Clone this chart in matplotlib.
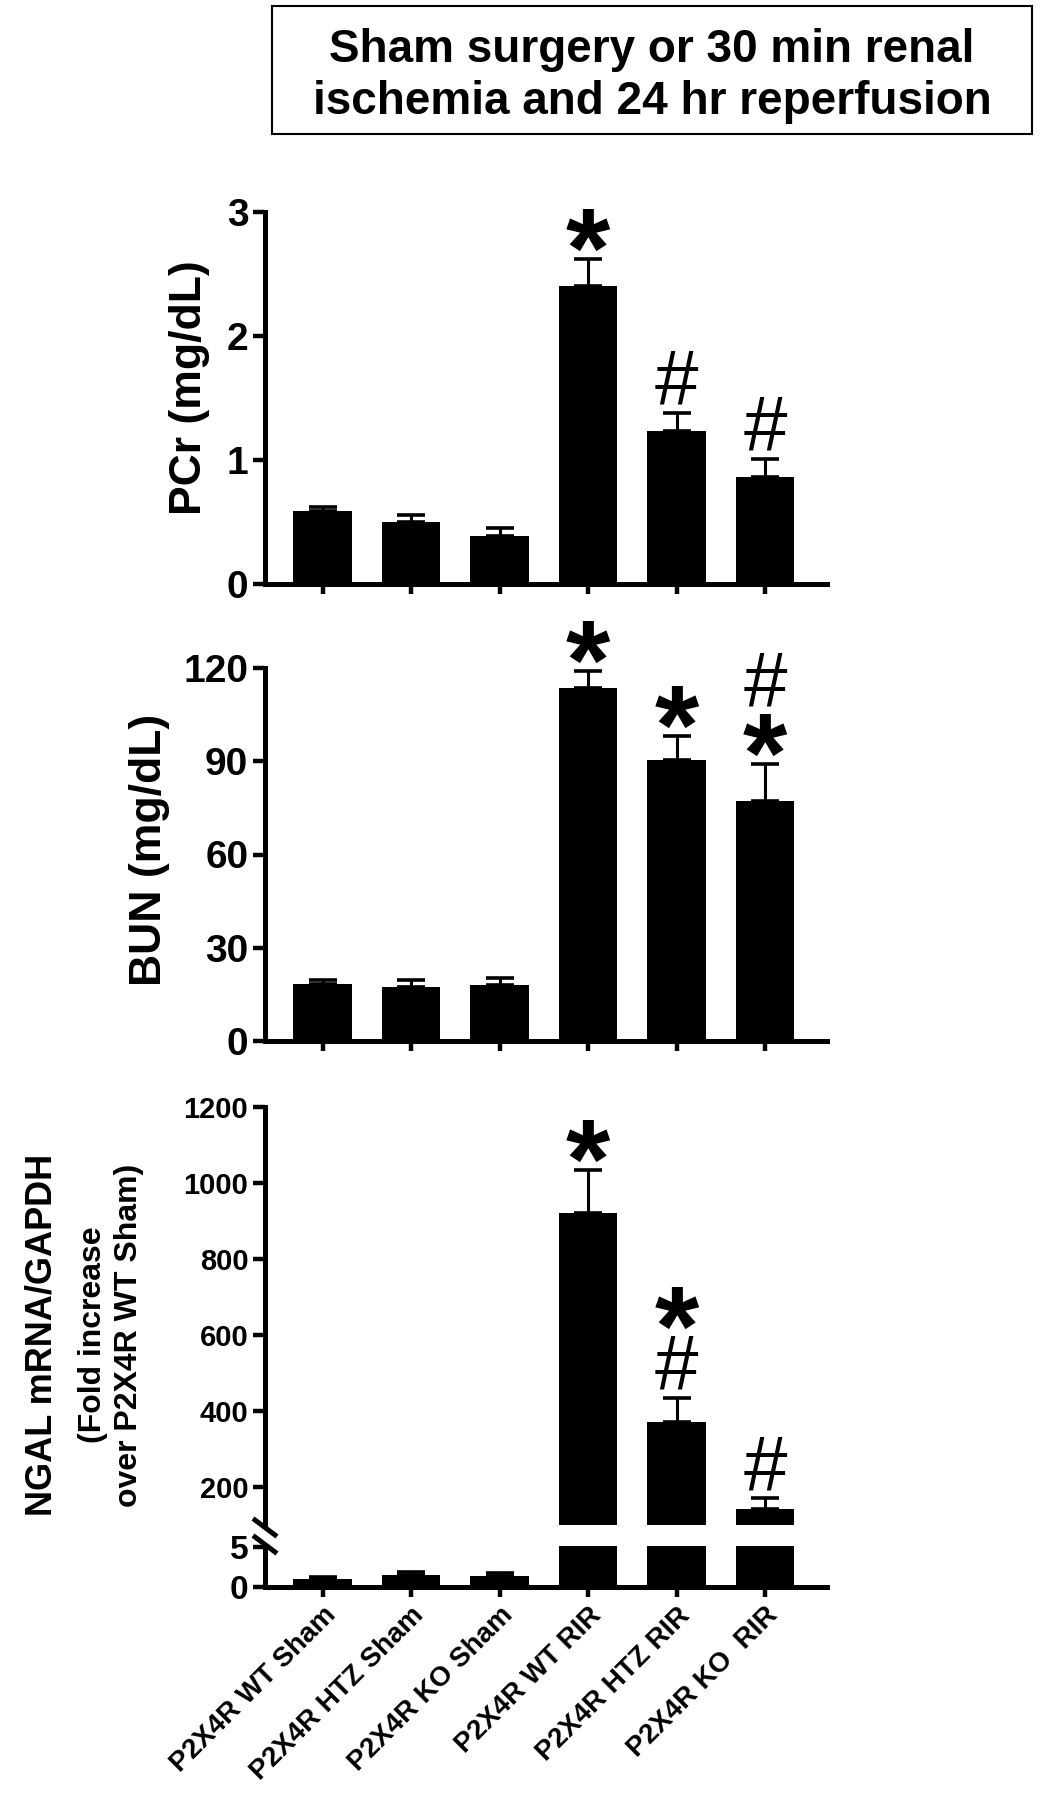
import numpy as np
import matplotlib
matplotlib.use("Agg")
import matplotlib.pyplot as plt
from matplotlib.lines import Line2D
from matplotlib.patches import Rectangle
from matplotlib.textpath import TextPath
from matplotlib.font_manager import FontProperties

plt.rcParams['font.family'] = ['Liberation Sans', 'DejaVu Sans']
plt.rcParams['font.weight'] = 'bold'

# data (mean, upper SEM)
groups = ["P2X4R WT Sham", "P2X4R HTZ Sham", "P2X4R KO Sham",
          "P2X4R WT RIR", "P2X4R HTZ RIR", "P2X4R KO  RIR"]

pcr_mean = [0.59, 0.50, 0.39, 2.40, 1.23, 0.86]
pcr_sem = [0.03, 0.06, 0.06, 0.22, 0.15, 0.15]

bun_mean = [18.2, 17.3, 17.9, 113.7, 90.3, 77.1]
bun_sem = [1.3, 2.2, 2.4, 5.2, 7.9, 12.1]

ngal_mean = [1.0, 1.45, 1.4, 921, 372, 143]
ngal_sem = [0.3, 0.4, 0.4, 113, 63, 27]

pcr_marks = ["", "", "", "*", "#", "#"]
bun_marks = ["", "", "", "*", "*", "*#"]
ngal_marks = ["", "", "", "*", "#*", "#"]

W, H = 1054, 1800
fig = plt.figure(figsize=(W / 100, H / 100), dpi=100)

x = np.arange(len(groups))


def new_axes(top, bottom):
    return fig.add_axes([265 / W, 1 - bottom / H, (827 - 265) / W, (bottom - top) / H])


def style(ax, labelsize):
    ax.spines["top"].set_visible(False)
    ax.spines["right"].set_visible(False)
    ax.spines["left"].set_linewidth(3.6)
    ax.spines["bottom"].set_linewidth(3.6)
    ax.tick_params(axis="y", length=9, width=3.2, pad=3, labelsize=labelsize)
    ax.tick_params(axis="x", length=7, width=3.2)
    ax.set_xlim(-0.65, 5.7)
    ax.set_xticks(x)
    ax.set_xticklabels([])


def draw_bars(ax, means, sems):
    ax.bar(x, means, width=0.66, color="black", linewidth=0)
    ax.errorbar(x, means, yerr=[np.zeros(len(sems)), sems], fmt="none", ecolor="black",
                elinewidth=2.2, capsize=10, capthick=2.6)


def glyph(s, weight):
    tp = TextPath((0, 0), s, size=100, prop=FontProperties(family="Liberation Sans", weight=weight))
    e = tp.get_extents()
    return e.y0 / 100, e.height / 100


star_y0, star_h = glyph("*", "bold")
hash_y0, hash_h = glyph("#", "normal")
star_fs = 30.5 / star_h
hash_fs = 38.5 / hash_h


def add_marks(ax, means, sems, marks):
    for i, symbols in enumerate(marks):
        offset = 6
        for s in symbols:
            if s == "*":
                fs, weight, y0, h = star_fs, "bold", star_y0, star_h
            else:
                fs, weight, y0, h = hash_fs, "normal", hash_y0, hash_h
            ax.annotate(s, xy=(i, means[i] + sems[i]), xytext=(0, offset - y0 * fs),
                        textcoords="offset points", ha="center", va="baseline",
                        fontsize=fs, fontweight=weight)
            offset += h * fs + 5


# title box
fig.add_artist(Rectangle((272 / W, 1 - 134 / H), (1032 - 272) / W, 128 / H,
                         transform=fig.transFigure, fill=False, lw=1.5, ec="black"))
fig.text(652 / W, 1 - 76 / H, "Sham surgery or 30 min renal\nischemia and 24 hr reperfusion",
         ha="center", va="center", fontsize=33, fontweight="bold", linespacing=1.22)

# PCr
ax1 = new_axes(212, 584)
style(ax1, 28)
draw_bars(ax1, pcr_mean, pcr_sem)
ax1.set_ylim(0, 3)
ax1.set_yticks([0, 1, 2, 3])
add_marks(ax1, pcr_mean, pcr_sem, pcr_marks)
fig.text(190 / W, 1 - 388 / H, "PCr (mg/dL)", rotation=90, ha="center", va="center",
         fontsize=32, fontweight="bold")

# BUN
ax2 = new_axes(668, 1041)
style(ax2, 28)
draw_bars(ax2, bun_mean, bun_sem)
ax2.set_ylim(0, 120)
ax2.set_yticks([0, 30, 60, 90, 120])
add_marks(ax2, bun_mean, bun_sem, bun_marks)
fig.text(149 / W, 1 - 850 / H, "BUN (mg/dL)", rotation=90, ha="center", va="center",
         fontsize=32, fontweight="bold")

# NGAL, broken axis
ax3 = new_axes(1107, 1525)
style(ax3, 21)
ax3.spines["bottom"].set_visible(False)
ax3.tick_params(axis="x", length=0)
draw_bars(ax3, ngal_mean, ngal_sem)
ax3.set_ylim(100, 1200)
ax3.set_yticks([200, 400, 600, 800, 1000, 1200])
add_marks(ax3, ngal_mean, ngal_sem, ngal_marks)

ax4 = new_axes(1546, 1587)
style(ax4, 24)
draw_bars(ax4, ngal_mean, ngal_sem)
ax4.set_ylim(0, 5.1)
ax4.set_yticks([0, 5])
ax4.set_xticklabels(groups, rotation=45, ha="right", rotation_mode="anchor",
                    fontsize=20, fontweight="bold")
ax4.tick_params(axis="x", pad=4)

for y0, y1 in [(1520, 1535), (1537, 1552)]:
    fig.add_artist(Line2D([255 / W, 275 / W], [1 - y0 / H, 1 - y1 / H], lw=3.6, color="black"))

fig.text(42 / W, 1 - 1335 / H, "NGAL mRNA/GAPDH", rotation=90, ha="center", va="center",
         fontsize=26, fontweight="bold")
fig.text(93 / W, 1 - 1335 / H, "(Fold increase", rotation=90, ha="center", va="center",
         fontsize=23, fontweight="bold")
fig.text(129 / W, 1 - 1335 / H, "over P2X4R WT Sham)", rotation=90, ha="center", va="center",
         fontsize=23, fontweight="bold")

fig.savefig("out.png", dpi=100)
